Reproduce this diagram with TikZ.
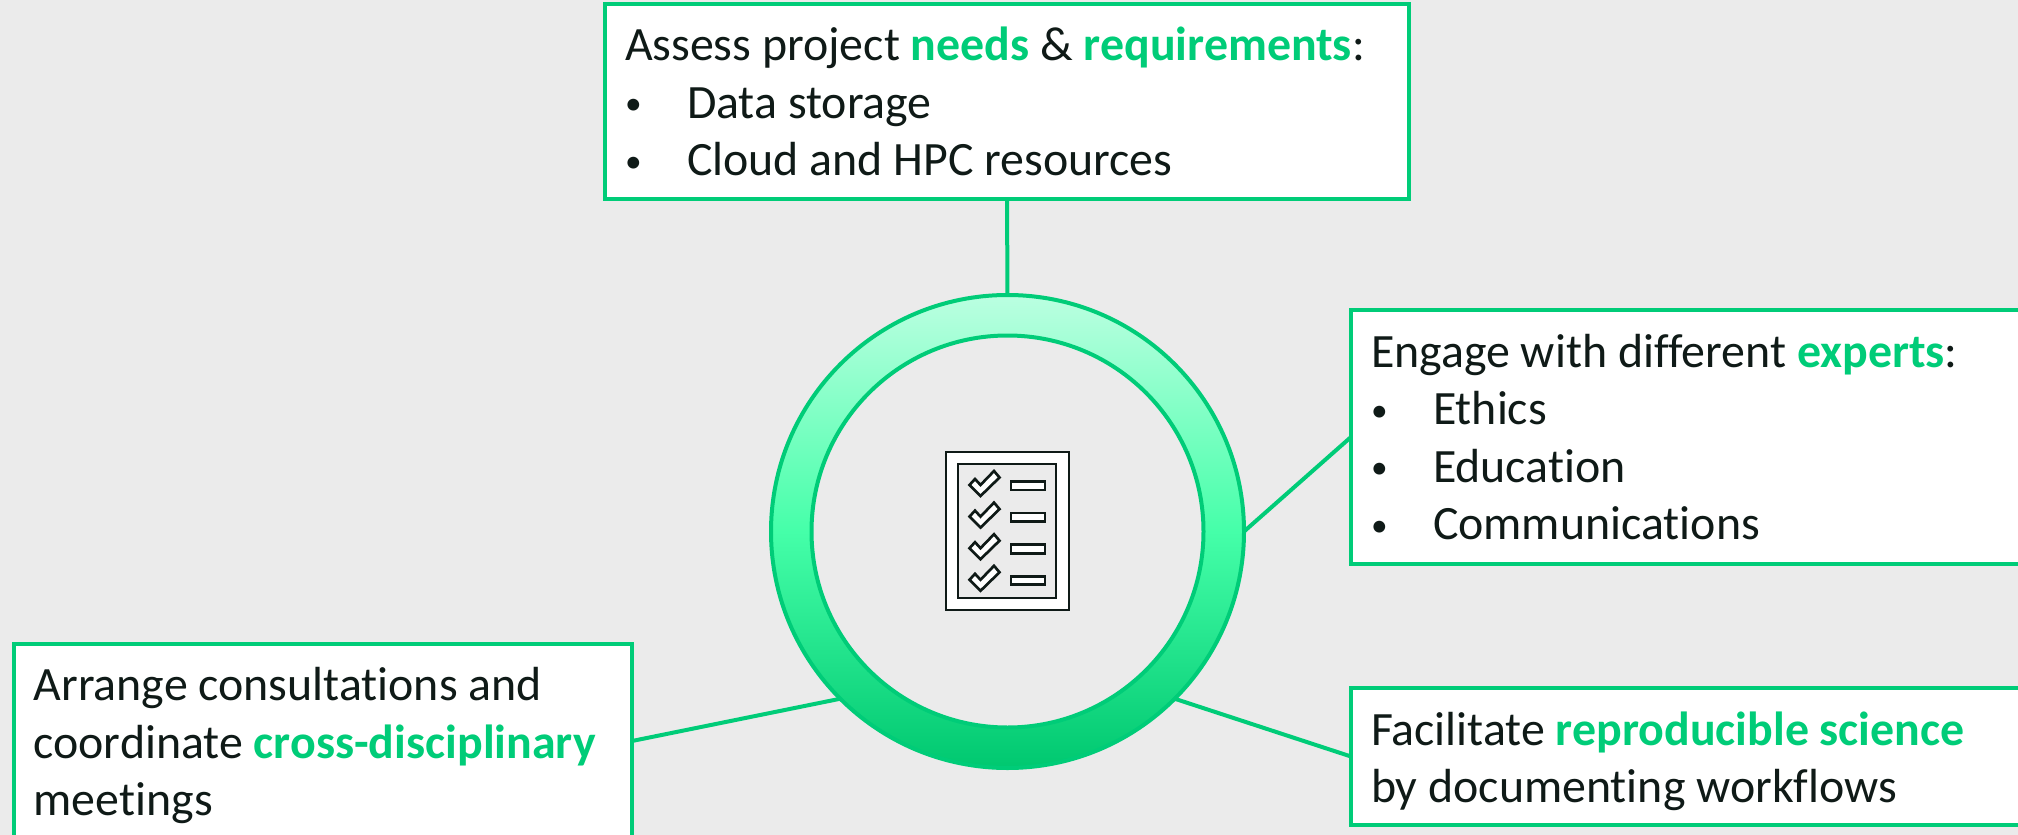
\documentclass[tikz,border=0pt]{standalone}
\usepackage{fontspec}
\setmainfont[Ligatures=NoCommon]{Carlito}
\definecolor{bggray}{HTML}{EBEBEB}
\definecolor{mygreen}{HTML}{00CC78}
\definecolor{myink}{HTML}{0F1A17}
\definecolor{ringtop}{HTML}{BBFFE1}
\definecolor{ringmid}{HTML}{45FFA9}
\definecolor{ringbot}{HTML}{00C870}
\newcommand{\hl}[1]{\textcolor{mygreen}{\textbf{#1}}}
\newcommand{\bul}[1]{\makebox[46.5pt][l]{\raisebox{2.5pt}{\fontsize{25}{43}\selectfont\textbullet}}#1}
\newcommand{\topgap}{\rule{0pt}{32pt}}
\tikzset{every picture/.style={line width=0.75pt}}
\tikzset{
  infobox/.style={draw=mygreen,line width=3pt,fill=white,anchor=north west,align=flush left,text=myink,inner sep=0pt,outer sep=0pt,
    font=\fontsize{35.9}{43}\selectfont},
  wire/.style={draw=mygreen,line width=3pt},
  icon/.style={draw=myink,line width=2pt},
}

\begin{document}
\begin{tikzpicture}[x=0.75pt,y=0.75pt,yscale=-1]
	\useasboundingbox (0,0) rectangle (2018,835);
	\fill[bggray] (0,0) rectangle (2018,835);

	% Ring
	\path[even odd rule,top color=ringtop,bottom color=ringbot,middle color=ringmid] (1007.5,531.5) circle (236.5) (1007.5,531.5) circle (196);
	\draw[wire] (1007.5,531.5) circle (196);
	\node[circle,draw=mygreen,line width=3pt,minimum size=354.75pt,inner sep=0pt,outer sep=0pt] (ring) at (1007.5,531.5) {};

	% Boxes
	\node[infobox,minimum width=603pt,minimum height=146.25pt,text width=573pt] (assess) at (605,4) {Assess project \hl{needs} \& \hl{requirements}:\\\bul{Data storage}\\\bul{Cloud and HPC resources}};
	\node[infobox,minimum width=520pt,minimum height=190.5pt,text width=490pt] (engage) at (1351,310) {Engage with different \hl{experts}:\\\bul{Ethics}\\\bul{Education}\\\bul{Communications}};
	\node[infobox,minimum width=520pt,minimum height=102.75pt,text width=490pt] (facilitate) at (1351,688) {\topgap Facilitate \hl{reproducible science}\\by documenting workflows};
	\node[infobox,minimum width=463.5pt,minimum height=145.5pt,text width=434pt] (arrange) at (14,644) {\topgap Arrange consultations and\\coordinate \hl{cross-disciplinary}\\meetings};

	% Connectors
	\draw[wire] (assess.south) -- (ring.north);
	\draw[wire] (engage.west) -- (ring.east);
	\draw[wire] (facilitate.west) -- (ring.south east);
	\draw[wire] (arrange.east) -- (ring.south west);

	% Checklist icon
	\draw[icon,fill=white] (946,452) rectangle (1069,610);
	\draw[icon,fill=bggray] (958,464) rectangle (1056,598);
	\foreach \i in {0,1,2,3} {
		\begin{scope}[yshift=\i*23.7pt]
			\draw[icon,fill=white,line join=miter] (969.5,485) -- (975,479) -- (980.5,485) -- (994,471) -- (999.5,477.5) -- (980.5,496) -- cycle;
			\draw[icon,fill=white] (1011,481.5) rectangle (1045,490);
		\end{scope}
	}
\end{tikzpicture}
\end{document}
